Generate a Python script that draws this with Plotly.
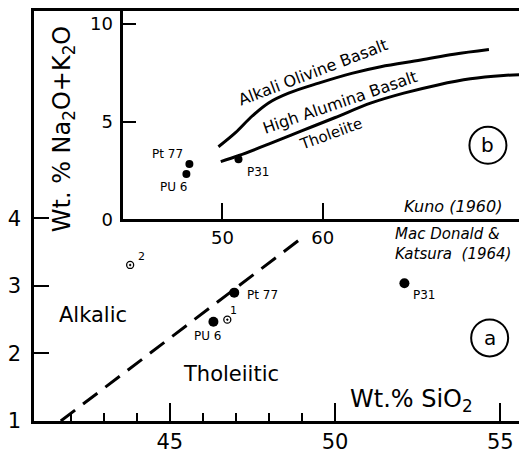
import plotly.graph_objects as go

# ---------------- data ----------------
# Panel (a): MacDonald & Katsura diagram
ma_sio2 = [41.7, 49.05]          # dividing line (alkalic / tholeiitic)
ma_alk = [1.0, 3.73]
filled_names = ["Pt 77", "PU 6", "P31"]
filled_sio2 = [46.95, 46.32, 52.1]
filled_alk = [2.90, 2.47, 3.04]
open_names = ["1", "2"]
open_sio2 = [46.74, 43.8]
open_alk = [2.50, 3.31]

# Panel (b): Kuno (1960)
aob_sio2 = [49.6, 51.3, 52.97, 54.6, 56.6, 59.6, 62.9, 65.8, 69.8, 73.1, 76.6]
aob_alk = [3.72, 4.44, 5.29, 5.96, 6.46, 6.97, 7.47, 7.81, 8.15, 8.45, 8.69]
hab_sio2 = [49.83, 51.65, 54.6, 57.9, 61.2, 64.85, 68.1, 71.5, 74.75, 78.05, 80.5]
hab_alk = [2.96, 3.27, 3.85, 4.53, 5.20, 5.96, 6.46, 6.88, 7.19, 7.36, 7.42]
b_names = ["Pt 77", "PU 6", "P31"]
b_sio2 = [46.7, 46.4, 51.6]
b_alk = [2.83, 2.32, 3.08]

main_xticks = [45, 50, 55]
main_xminor = [42, 43, 44, 46, 47, 48, 49]
main_yticks = [1, 2, 3, 4]
inset_xticks = [50, 60]
inset_yticks = [0, 5, 10]

FONT = "DejaVu Sans"

fig = go.Figure()

# main panel
fig.add_trace(go.Scatter(x=ma_sio2, y=ma_alk, mode="lines",
                         line=dict(color="black", width=3, dash="18px,10px"),
                         xaxis="x", yaxis="y", showlegend=False))
fig.add_trace(go.Scatter(x=filled_sio2, y=filled_alk, mode="markers",
                         marker=dict(color="black", size=10, symbol="circle"),
                         xaxis="x", yaxis="y", showlegend=False))
fig.add_trace(go.Scatter(x=open_sio2, y=open_alk, mode="markers",
                         marker=dict(color="black", size=7, symbol="circle-open-dot",
                                     line=dict(width=1.3)),
                         xaxis="x", yaxis="y", showlegend=False))

# inset panel
fig.add_trace(go.Scatter(x=aob_sio2, y=aob_alk, mode="lines", line_shape="spline",
                         line=dict(color="black", width=3),
                         xaxis="x2", yaxis="y2", showlegend=False))
fig.add_trace(go.Scatter(x=hab_sio2, y=hab_alk, mode="lines", line_shape="spline",
                         line=dict(color="black", width=3),
                         xaxis="x2", yaxis="y2", showlegend=False))
fig.add_trace(go.Scatter(x=b_sio2, y=b_alk, mode="markers",
                         marker=dict(color="black", size=8),
                         xaxis="x2", yaxis="y2", showlegend=False))

ann = []
def txt(x, y, t, size, ref="", **kw):
    d = dict(x=x, y=y, text=t, showarrow=False, xref="x" + ref, yref="y" + ref,
             font=dict(family=FONT, size=size, color="black"))
    d.update(kw)
    ann.append(d)

# main panel labels
txt(42.69, 2.57, "Alkalic", 21)
txt(46.86, 1.69, "Tholeiitic", 21)
txt(46.14, 2.26, "PU 6", 12)
txt(47.28, 2.86, "Pt 77", 12, xanchor="left")
txt(52.30, 2.86, "P31", 12, xanchor="left")
txt(46.92, 2.63, "1", 11)
txt(44.13, 3.44, "2", 11)
txt(52.3, 1.30, "Wt.% SiO<sub>2</sub>", 24)
txt(51.75, 3.62, "Mac Donald &amp;<br>Katsura  (1964)", 15, xanchor="left",
    align="left", font=dict(family=FONT, size=15, color="black", style="italic"))
txt(54.68, 2.23, "a", 20)

# inset labels
txt(44.55, 3.33, "Pt 77", 12, "2")
txt(45.1, 1.67, "PU 6", 12, "2")
txt(53.6, 2.42, "P31", 12, "2")
txt(59.0, 7.5, "Alkali Olivine Basalt", 16, "2", textangle=-21)
txt(61.7, 5.98, "High Alumina Basalt", 16, "2", textangle=-19)
txt(60.8, 4.38, "Tholeiite", 15, "2", textangle=-20)
txt(72.97, 0.66, "Kuno (1960)", 16, "2",
    font=dict(family=FONT, size=16, color="black", style="italic"))
txt(76.5, 3.79, "b", 20, "2")

# y-axis title (rotated)
ann.append(dict(x=0.06, y=0.713, xref="paper", yref="paper",
                xanchor="center", yanchor="middle",
                text="Wt. % Na<sub>2</sub>O+K<sub>2</sub>O", textangle=-90,
                showarrow=False, font=dict(family=FONT, size=24, color="black")))

shapes = [
    dict(type="circle", xref="x", yref="y", xsizemode="pixel", ysizemode="pixel",
         xanchor=54.68, yanchor=2.23, x0=-18.5, x1=18.5, y0=-18.5, y1=18.5,
         line=dict(color="black", width=2)),
    dict(type="circle", xref="x2", yref="y2", xsizemode="pixel", ysizemode="pixel",
         xanchor=76.5, yanchor=3.79, x0=-18.5, x1=18.5, y0=-18.5, y1=18.5,
         line=dict(color="black", width=2)),
]

tickfont = dict(family=FONT, size=21, color="black")
fig.update_layout(
    width=519, height=446,
    margin=dict(l=22, r=0, t=0, b=32),
    paper_bgcolor="white", plot_bgcolor="white",
    showlegend=False,
    annotations=ann, shapes=shapes,
    xaxis=dict(domain=[0, 1], range=[40.89, 55.81], showline=True, linecolor="black",
               linewidth=2.5, mirror=True, showgrid=False, zeroline=False,
               tickmode="array", tickvals=main_xticks, ticks="inside", ticklen=18,
               tickwidth=2, tickcolor="black", tickfont=tickfont,
               minor=dict(tickmode="array", tickvals=main_xminor, ticks="inside",
                          ticklen=8, tickwidth=1.5, tickcolor="black", showgrid=False)),
    yaxis=dict(domain=[0, 1], range=[1, 7.07], showline=True, linecolor="black",
               linewidth=2.5, showgrid=False, zeroline=False,
               tickmode="array", tickvals=main_yticks, ticks="inside", ticklen=15,
               tickwidth=2, tickcolor="black", tickfont=tickfont, ticklabelstandoff=6),
    xaxis2=dict(domain=[0.1811, 1], range=[40.1, 80.4], anchor="y2", showline=True,
                linecolor="black", linewidth=2.5, showgrid=False, zeroline=False,
                tickmode="array", tickvals=inset_xticks, ticks="inside", ticklen=17,
                tickwidth=2, tickcolor="black",
                tickfont=dict(family=FONT, size=18, color="black")),
    yaxis2=dict(domain=[0.4916, 1], range=[0, 10.66], anchor="x2", showline=True,
                linecolor="black", linewidth=2.5, showgrid=False, zeroline=False,
                tickmode="array", tickvals=inset_yticks, ticks="inside", ticklen=13,
                tickwidth=2, tickcolor="black", ticklabelstandoff=4,
                tickfont=dict(family=FONT, size=18, color="black")),
)

fig.write_html("out.html")
